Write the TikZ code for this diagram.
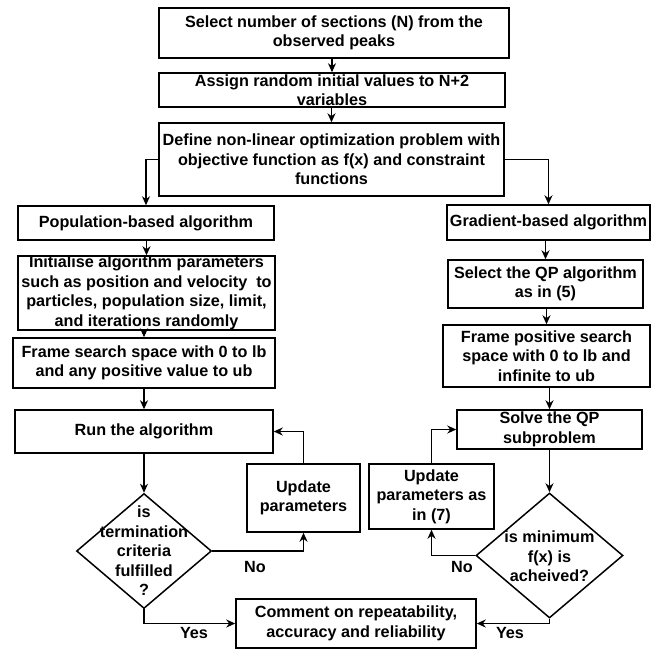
\documentclass[tikz,border=0pt]{standalone}
\usepackage{fontspec}
\setmainfont{Liberation Sans}
\usetikzlibrary{arrows.meta,shapes.geometric}

\begin{document}
\begin{tikzpicture}[
  x=1pt, y=-1pt,
  font=\fontsize{16.2}{19.5}\selectfont\bfseries,
  box/.style={draw, line width=1.5pt, align=center, inner xsep=2pt, inner ysep=0pt},
  dec/.style={draw, diamond, line width=1.5pt, inner sep=0pt},
  a/.style={-{Stealth[length=9pt, width=8pt]}, line width=1.5pt},
  lbl/.style={inner sep=0pt, align=center}]

\useasboundingbox (0,0) rectangle (657,649);

\node[box, minimum width=350pt, minimum height=50pt] (sel) at (334,33)
      {Select number of sections (N) from the\\observed peaks};
\node[box, minimum width=346pt, minimum height=34pt] (asg) at (332,90)
      {Assign random initial values to N+2\\variables};
\node[box, minimum width=345pt, minimum height=73pt] (def) at (331.5,159.5)
      {Define non-linear optimization problem with\\objective function as f(x) and constraint\\functions};

\node[box, minimum width=256pt, minimum height=34pt] (pop) at (146,223)
      {Population-based algorithm};
\node[box, minimum width=257pt, minimum height=74pt] (ini) at (146.5,293)
      {Initialise algorithm parameters\\such as position and velocity \ to\\particles, population size, limit,\\and iterations randomly};
\node[box, minimum width=262pt, minimum height=50pt] (frl) at (144,363)
      {Frame search space with 0 to lb\\and any positive value to ub};
\node[box, minimum width=258pt, minimum height=43pt] (run) at (144,431.5)
      {Run the algorithm};
\node[dec, minimum width=135pt, minimum height=115pt] (ql) at (144,551) {};
\node[lbl] (qlt) at (ql) {is\\termination\\criteria\\fulfilled\\?};
\node[box, minimum width=113pt, minimum height=68pt] (upl) at (303.5,498)
      {Update\\parameters};

\node[box, minimum width=203pt, minimum height=35pt] (grd) at (548.5,222.5)
      {Gradient-based algorithm};
\node[box, minimum width=195pt, minimum height=48pt] (qp) at (545.5,284)
      {Select the QP algorithm\\as in (5)};
\node[box, minimum width=207pt, minimum height=62pt] (frp) at (546.5,356)
      {Frame positive search\\space with 0 to lb and\\infinite to ub};
\node[box, minimum width=185pt, minimum height=39pt] (slv) at (549.5,429.5)
      {Solve the QP\\subproblem};
\node[dec, minimum width=147pt, minimum height=125pt] (qr) at (549.5,555.5) {};
\node[lbl] (qrt) at (549.5,556.5) {is minimum\\f(x) is\\acheived?};
\node[box, minimum width=125pt, minimum height=65pt] (upr) at (431.5,496.5)
      {Update\\parameters as\\in (7)};

\node[box, minimum width=240pt, minimum height=49pt] (com) at (356,623.5)
      {Comment on repeatability,\\accuracy and reliability};

\foreach \s/\t in {sel/asg, asg/def, pop/ini, ini/frl, frl/run, run/ql,
                   grd/qp, qp/frp, frp/slv, slv/qr} {
  \draw[a] (\t.north |- \s.south) -- (\t.north);
}

\draw[a] (def.west) -| (pop.north);
\draw[a] (def.east) -| (grd.north);

\draw[a] (ql.east) -| (upl.south);
\draw[a] (upl.north) |- (run.east);
\draw[a] (ql.south) |- (com.west);
\node[lbl] (nol) at (255,567) {No};
\node[lbl] (yesl) at (194,633) {Yes};

\draw[a] (qr.west) -| (upr.south);
\draw[a] (upr.north) |- (slv.west);
\draw[a] (qr.south) |- (com.east);
\node[lbl] (nor) at (462,567) {No};
\node[lbl] (yesr) at (510,633) {Yes};
\end{tikzpicture}
\end{document}
